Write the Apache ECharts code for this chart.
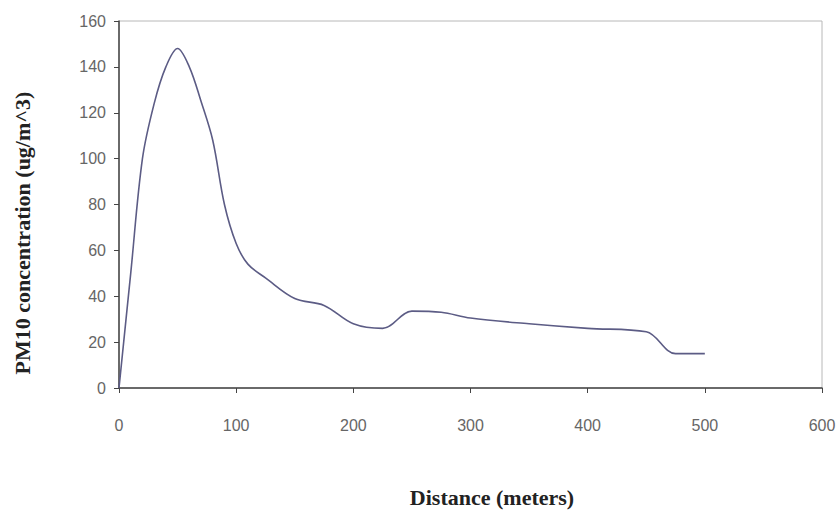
<!DOCTYPE html>
<html>
<head>
<meta charset="utf-8">
<script src="https://cdn.jsdelivr.net/npm/echarts@6/dist/echarts.min.js"></script>
<style>html,body{margin:0;padding:0;background:#fff}#c{width:840px;height:510px}</style>
</head>
<body>
<div id="c"></div>
<script>
const distances = [0, 10, 20, 30, 40, 50, 60, 70, 80, 90, 100, 110, 125, 150, 175, 200, 225, 250, 275, 300, 350, 400, 450, 475, 500];
const pm10 = [0, 50, 100, 124, 140, 148, 140, 125, 108, 80, 63, 54, 48, 39, 36, 28, 26, 33.5, 33, 30.5, 28, 26, 24.5, 15, 15];
const xTicks = [0, 100, 200, 300, 400, 500, 600];
const yTicks = [0, 20, 40, 60, 80, 100, 120, 140, 160];
const xTitle = 'Distance (meters)';
const yTitle = 'PM10 concentration (ug/m^3)';

const chart = echarts.init(document.getElementById('c'), null, {renderer: 'svg'});
const serif = '"Liberation Serif", "Times New Roman", serif';
const sans = '"Liberation Sans", Arial, sans-serif';
chart.setOption({
  animation: false,
  grid: {left: 119, right: 18, top: 21, bottom: 122, show: true, borderColor: '#b8b8b8', borderWidth: 1, backgroundColor: '#fff'},
  xAxis: {
    type: 'value', min: xTicks[0], max: xTicks[xTicks.length - 1], interval: 100,
    axisLine: {show: true, lineStyle: {color: '#444', width: 1.5}},
    axisTick: {show: true, inside: false, length: 5, lineStyle: {color: '#444'}},
    axisLabel: {color: '#666', fontFamily: sans, fontSize: 16, margin: 29},
    splitLine: {show: false}
  },
  yAxis: {
    type: 'value', min: yTicks[0], max: yTicks[yTicks.length - 1], interval: 20,
    axisLine: {show: true, lineStyle: {color: '#444', width: 1.5}},
    axisTick: {show: true, inside: false, length: 5, lineStyle: {color: '#444'}},
    axisLabel: {color: '#666', fontFamily: sans, fontSize: 16, margin: 13},
    splitLine: {show: false}
  },
  series: [{
    type: 'line',
    data: distances.map((d, i) => [d, pm10[i]]),
    smooth: 0.35,
    showSymbol: false,
    lineStyle: {color: '#5c5c85', width: 1.6}
  }],
  graphic: [
    {type: 'text', x: 492, y: 497, style: {text: xTitle, font: 'bold 22px ' + serif, fill: '#222', textAlign: 'center', textVerticalAlign: 'middle'}},
    {type: 'text', x: 22, y: 233, rotation: Math.PI / 2, style: {text: yTitle, font: 'bold 22px ' + serif, fill: '#222', textAlign: 'center', textVerticalAlign: 'middle'}}
  ]
});
</script>
</body>
</html>
